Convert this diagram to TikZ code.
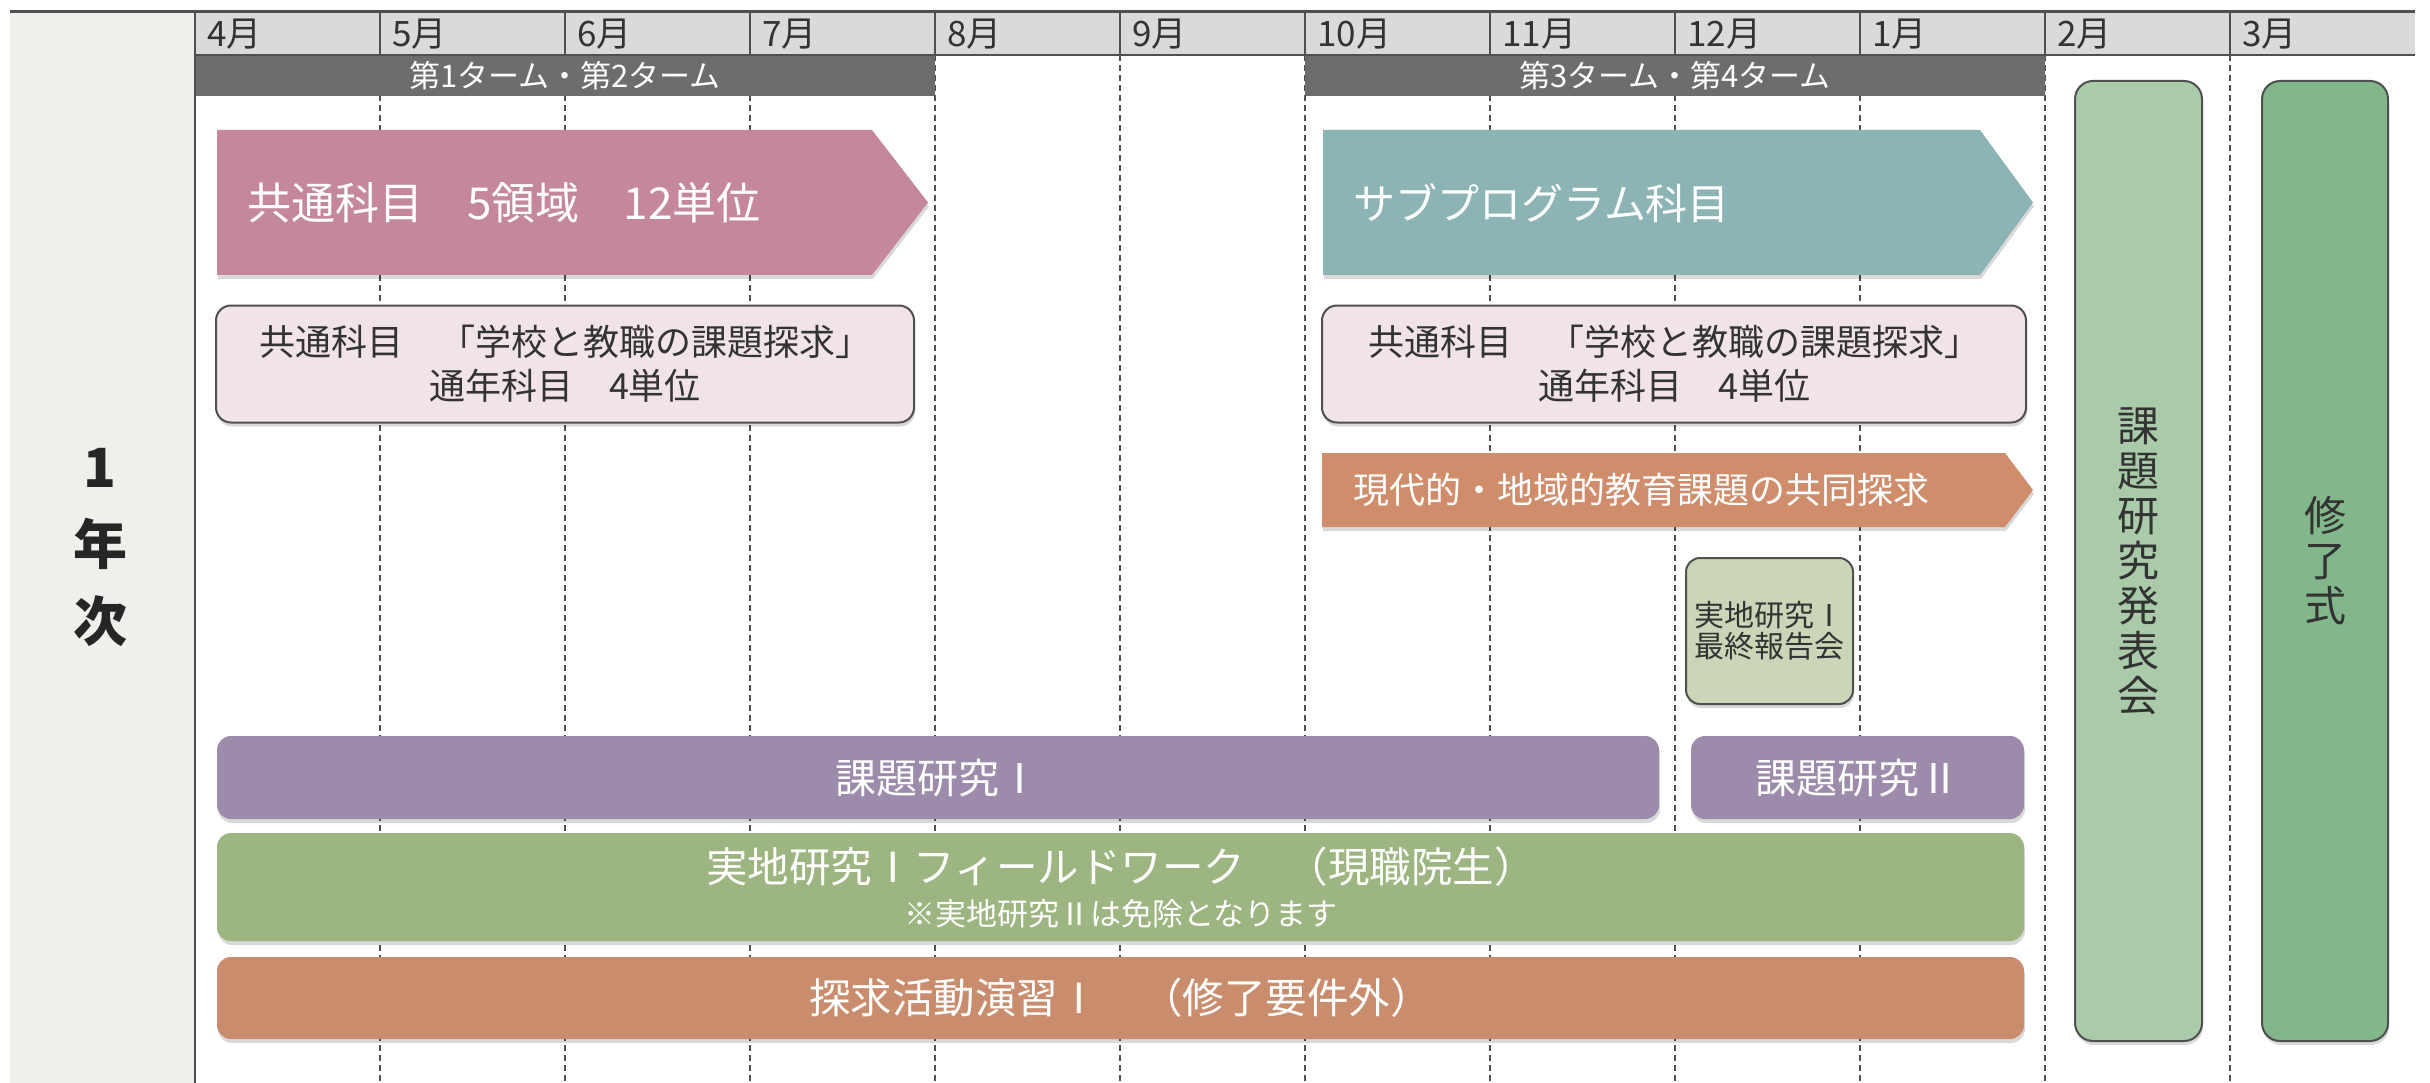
\documentclass[tikz,border=0pt]{standalone}
\usepackage{fontspec}
\setmainfont{Noto Sans CJK JP}
\usetikzlibrary{shadows}
\definecolor{panel}{HTML}{EEF0EC}
\definecolor{hdr}{HTML}{DCDAD8}
\definecolor{termc}{HTML}{6C6D6F}
\definecolor{pinkc}{HTML}{C5879D}
\definecolor{tealc}{HTML}{8DB4B4}
\definecolor{paleb}{HTML}{F1E4E8}
\definecolor{orngA}{HTML}{D08D6C}
\definecolor{smallb}{HTML}{CAD6B7}
\definecolor{purp}{HTML}{9C8BAB}
\definecolor{grn}{HTML}{9DB681}
\definecolor{orngB}{HTML}{C98C6D}
\definecolor{rgone}{HTML}{A9CBA9}
\definecolor{rgtwo}{HTML}{82B78B}
\definecolor{txtc}{HTML}{333333}
\definecolor{linec}{HTML}{505050}
\newcommand\fsz[2]{\fontsize{#1}{#2}\selectfont}
\tikzset{
  softshadow/.style={drop shadow={shadow xshift=1pt, shadow yshift=-4pt, opacity=0.15, fill=black}},
  monthlbl/.style={anchor=west, inner sep=0pt, text=txtc, font=\fsz{35}{35}},
  termlbl/.style={inner sep=0pt, text=white, font=\fsz{31}{31}},
  arrowtxt/.style={anchor=west, inner sep=0pt, text=white},
  palebox/.style={draw=linec, line width=2pt, fill=paleb, rounded corners=15pt, softshadow, align=center, text=txtc, font=\fsz{36}{44}, inner sep=0pt},
  barbox/.style={rounded corners=14pt, softshadow, inner sep=0pt, text=white},
  sidebox/.style={draw=linec, line width=2pt, rounded corners=18pt, softshadow, inner sep=0pt},
  gridline/.style={linec, line width=1.4pt, dash pattern=on 6pt off 4pt},
}
\begin{document}
\begin{tikzpicture}[x=1pt,y=-1pt]
\useasboundingbox (0,0) rectangle (2430,1083);
\fill[white] (0,0) rectangle (2430,1083);
% left panel
\fill[panel] (10,12) rectangle (195,1083);
% header row
\fill[hdr] (195,12) rectangle (2415,55);
% dashed month lines
\foreach \i in {1,...,11} {
  \draw[gridline] ({195+185*\i},55) -- ({195+185*\i},1083);
}
% term bars
\fill[termc] (195,55) rectangle (935,96);
\fill[termc] (1305,55) rectangle (2045,96);
\node[termlbl] (t12) at (565,76) {第1ターム・第2ターム};
\node[termlbl] (t34) at (1675,76) {第3ターム・第4ターム};
% header separators
\foreach \i in {1,...,11} {
  \draw[linec, line width=1.5pt] ({195+185*\i},12) -- ({195+185*\i},55);
}
\draw[linec, line width=1.5pt] (195,55) -- (2415,55);
\draw[linec, line width=2pt] (195,12) -- (195,1083);
\draw[linec, line width=3pt] (10,12) -- (2415,12);
% month labels
\node[monthlbl] (m4) at (207,34) {4月};
\node[monthlbl] (m5) at (392,34) {5月};
\node[monthlbl] (m6) at (577,34) {6月};
\node[monthlbl] (m7) at (762,34) {7月};
\node[monthlbl] (m8) at (947,34) {8月};
\node[monthlbl] (m9) at (1132,34) {9月};
\node[monthlbl] (m10) at (1317,34) {10月};
\node[monthlbl] (m11) at (1502,34) {11月};
\node[monthlbl] (m12) at (1687,34) {12月};
\node[monthlbl] (m1) at (1872,34) {1月};
\node[monthlbl] (m2) at (2057,34) {2月};
\node[monthlbl] (m3) at (2242,34) {3月};
% year label
\node[align=center, inner sep=0pt, text=black!85, font=\fsz{54}{77}\bfseries] (year) at (100,547) {1\\年\\次};
% big arrows
\fill[pinkc, softshadow] (217,130) -- (872,130) -- (928,202.5) -- (872,275) -- (217,275) -- cycle;
\node[arrowtxt, font=\fsz{44}{44}] (common) at (247,203) {共通科目　5領域　12単位};
\fill[tealc, softshadow] (1323,130) -- (1980,130) -- (2033,202.5) -- (1980,275) -- (1323,275) -- cycle;
\node[arrowtxt, font=\fsz{42}{42}] (subprog) at (1353,203) {サブプログラム科目};
% pale boxes
\node[palebox, minimum width=698pt, minimum height=117pt] (paleL) at (565,364) {共通科目　「学校と教職の課題探求」\\通年科目　4単位};
\node[palebox, minimum width=704pt, minimum height=117pt] (paleR) at (1674,364) {共通科目　「学校と教職の課題探求」\\通年科目　4単位};
% orange arrow
\fill[orngA, softshadow] (1322,453) -- (2005,453) -- (2033,490) -- (2005,527) -- (1322,527) -- cycle;
\node[arrowtxt, font=\fsz{36}{36}] (joint) at (1353,490) {現代的・地域的教育課題の共同探求};
% small box
\node[draw=linec, line width=2pt, fill=smallb, rounded corners=14pt, softshadow, minimum width=167pt, minimum height=146pt, align=center, inner sep=0pt, text=txtc, font=\fsz{30}{31}] (final) at (1769.5,631) {実地研究Ⅰ\\最終報告会};
% bars
\node[barbox, fill=purp, minimum width=1442pt, minimum height=83pt, font=\fsz{41}{41}] (kadai1) at (938,777.5) {課題研究Ⅰ};
\node[barbox, fill=purp, minimum width=333pt, minimum height=83pt, font=\fsz{41}{41}] (kadai2) at (1857.5,777.5) {課題研究Ⅱ};
\node[barbox, fill=grn, minimum width=1807pt, minimum height=108pt] (field) at (1120.5,887) {};
\node[inner sep=0pt, text=white, font=\fsz{41.5}{41.5}] (fieldt) at (1121,867) {実地研究Ⅰフィールドワーク　（現職院生）};
\node[inner sep=0pt, text=white, font=\fsz{31}{31}] (fieldn) at (1121,914) {※実地研究Ⅱは免除となります};
\node[barbox, fill=orngB, minimum width=1807pt, minimum height=82pt, font=\fsz{41.5}{41.5}] (tankyu) at (1120.5,998) {探求活動演習Ⅰ　（修了要件外）};
% side boxes
\node[sidebox, fill=rgone, minimum width=127pt, minimum height=960pt] (present) at (2138.5,561) {};
\node[align=center, inner sep=0pt, text=txtc, font=\fsz{42}{45}] (presentt) at (2138.5,561) {課\\題\\研\\究\\発\\表\\会};
\node[sidebox, fill=rgtwo, minimum width=126pt, minimum height=960pt] (grad) at (2325,561) {};
\node[align=center, inner sep=0pt, text=txtc, font=\fsz{42}{45}] (gradt) at (2325,561) {修\\了\\式};
\end{tikzpicture}
\end{document}
